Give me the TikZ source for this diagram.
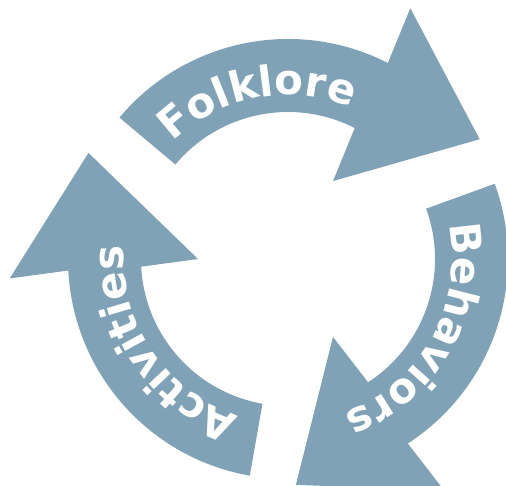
\documentclass[tikz,border=0pt]{standalone}
\usepackage{fontspec}
\newfontfamily\cyclefont{DejaVu Sans}
\usetikzlibrary{decorations.text}
\definecolor{cycleblue}{RGB}{127,162,183}

\tikzset{
  cyclearrow/.style={fill=cycleblue,draw=none},
  cyclelabel/.style={decorate,decoration={text along path,text align=center,
     text color=white,text={|\cyclefont\bfseries\fontsize{42}{42}\selectfont|#1}}}
}

\begin{document}
\begin{tikzpicture}
 \useasboundingbox (-288pt,-227pt) rectangle (218pt,259pt);
 % the three arrows, turned by 120 degrees
 \foreach \turn in {0,-120,-240}{
  \begin{scope}[rotate=\turn]
   \fill[cyclearrow] (140:220pt) arc[start angle=140,end angle=63,radius=220pt]
     -- (64:279pt) -- (32:226pt) -- (60:90pt) -- (63:147pt)
     arc[start angle=63,end angle=140,radius=147pt] -- cycle;
  \end{scope}
 }
 \path[cyclelabel=Folklore] (145:164pt) arc[start angle=145,end angle=57,radius=164pt];
 \path[cyclelabel=Behaviors] (20:164pt) arc[start angle=20,end angle=-78,radius=164pt];
 \path[cyclelabel=Activities] (263:164pt) arc[start angle=263,end angle=165,radius=164pt];
\end{tikzpicture}
\end{document}
